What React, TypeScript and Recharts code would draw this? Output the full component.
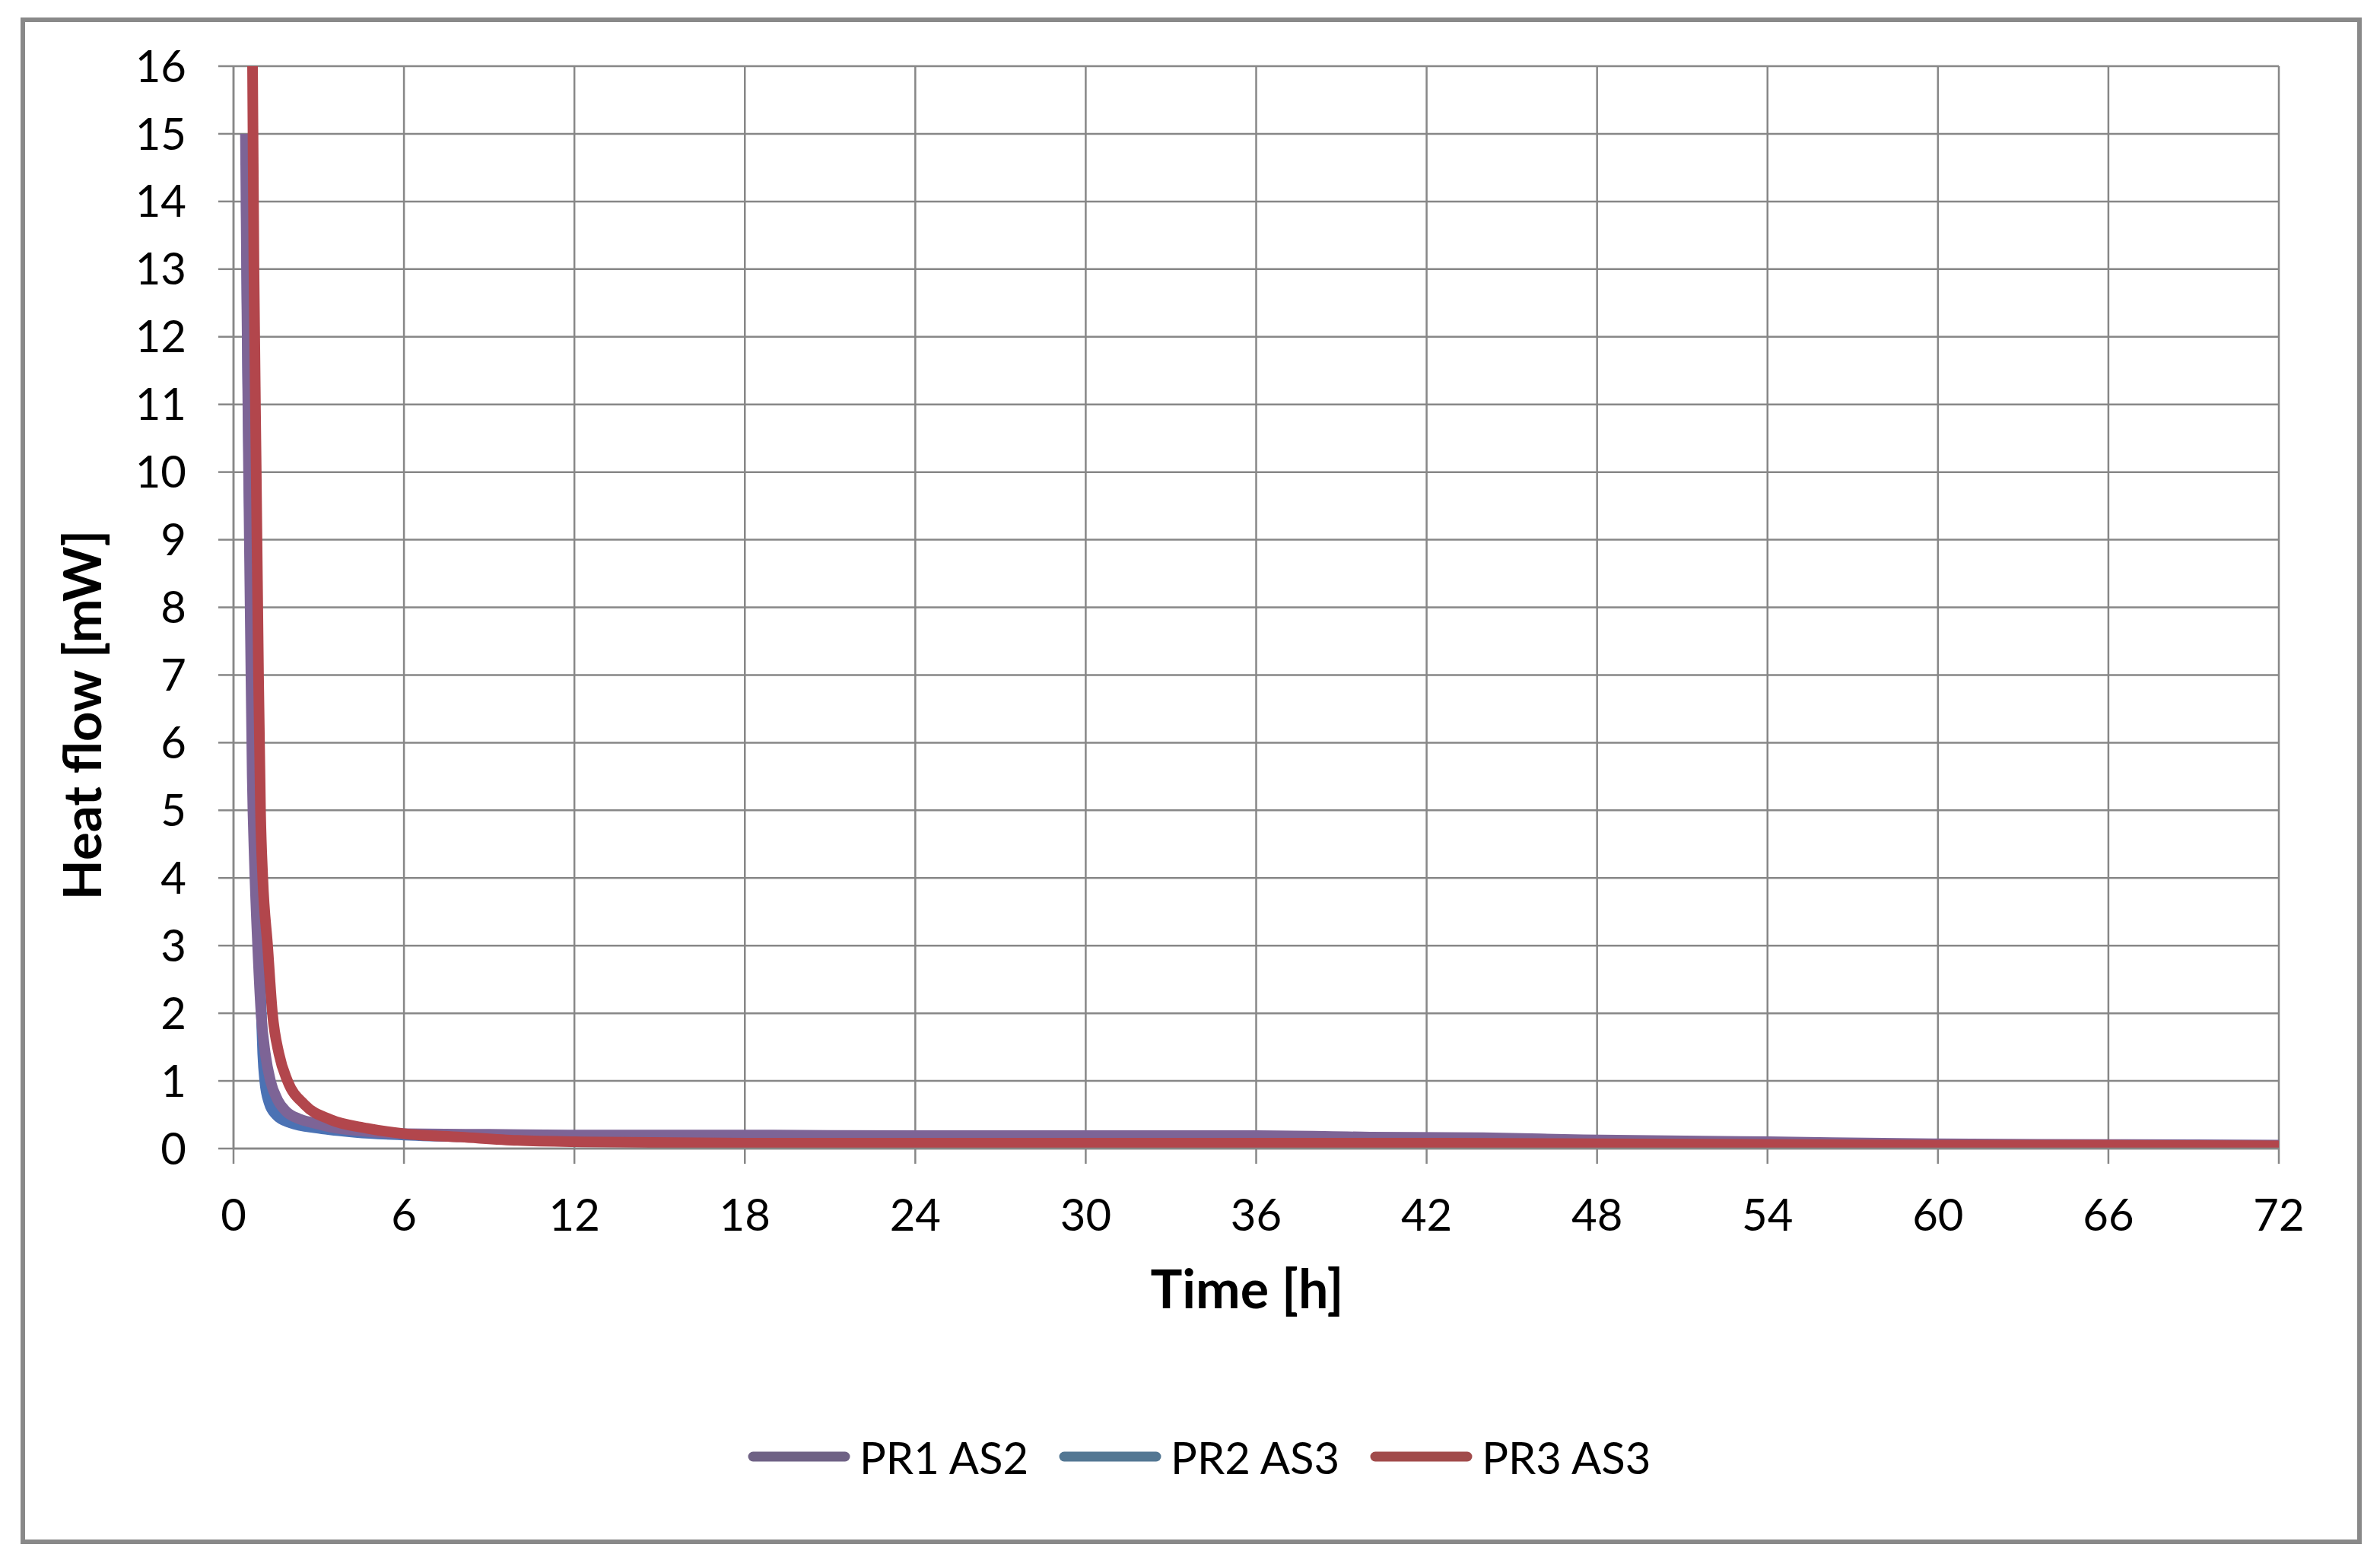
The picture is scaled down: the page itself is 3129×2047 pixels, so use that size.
import { LineChart, Line, XAxis, YAxis, CartesianGrid, Label } from 'recharts';

// time [h] and heat flow [mW]
const pr1Time = [0.42, 0.47, 0.53, 0.6, 0.66, 0.74, 0.85, 0.97, 1.12, 1.3, 1.55, 1.85, 2.3, 2.8, 3.5, 4.5, 6, 9, 12, 18, 24, 30, 36, 40, 44, 47.5, 54, 60, 66, 72];
const pr1Flow = [15.0, 12.5, 10.0, 7.5, 5.5, 4.2, 3.0, 2.0, 1.4, 1.0, 0.72, 0.55, 0.44, 0.38, 0.31, 0.26, 0.22, 0.21, 0.2, 0.2, 0.19, 0.19, 0.19, 0.17, 0.16, 0.13, 0.1, 0.07, 0.06, 0.05];

const pr2Time = [0.45, 0.5, 0.56, 0.63, 0.7, 0.8, 0.9, 0.98, 1.03, 1.1, 1.25, 1.5, 2.0, 3, 4.3, 6, 9, 12, 18, 24, 30, 36, 42, 48, 54, 60, 66, 72];
const pr2Flow = [14.0, 11.5, 9.5, 7.5, 5.6, 4.0, 2.9, 2.0, 1.4, 1.0, 0.68, 0.5, 0.38, 0.3, 0.24, 0.2, 0.17, 0.15, 0.15, 0.14, 0.14, 0.13, 0.11, 0.1, 0.08, 0.06, 0.05, 0.04];

const pr3Time = [0.64, 0.67, 0.72, 0.8, 0.88, 0.95, 1.03, 1.2, 1.37, 1.6, 1.9, 2.5, 3.4, 4.7, 6, 8, 10, 12, 18, 24, 30, 36, 42, 48, 54, 60, 66, 72];
const pr3Flow = [17.5, 16.0, 13.0, 10.0, 7.0, 5.0, 4.0, 3.0, 2.0, 1.4, 1.0, 0.65, 0.43, 0.3, 0.22, 0.17, 0.12, 0.1, 0.08, 0.08, 0.08, 0.08, 0.08, 0.07, 0.06, 0.05, 0.05, 0.04];

const xTicks = [0, 6, 12, 18, 24, 30, 36, 42, 48, 54, 60, 66, 72];
const yTicks = [0, 1, 2, 3, 4, 5, 6, 7, 8, 9, 10, 11, 12, 13, 14, 15, 16];

const toPoints = (t: number[], v: number[]) => t.map((x, i) => ({ t: x, flow: v[i] }));

const series = [
  { name: 'PR1 AS2', data: toPoints(pr1Time, pr1Flow), color: '#7d6496', legend: '#6f6285', z: 1 },
  { name: 'PR2 AS3', data: toPoints(pr2Time, pr2Flow), color: '#4b72b4', legend: '#537793', z: 0 },
  { name: 'PR3 AS3', data: toPoints(pr3Time, pr3Flow), color: '#b2464c', legend: '#a14b4b', z: 2 },
];
// blue sits underneath the purple trace, red on top
const drawOrder = [...series].sort((a, b) => a.z - b.z);

const GRID = '#878787';
const FONT = 'Lato, "Open Sans", sans-serif';

export default function App() {
  return (
    <div style={{ position: 'absolute', left: 0, top: 0, width: 3129, height: 2047, background: '#fff', fontFamily: FONT }}>
      <div style={{ position: 'absolute', left: 27, top: 23, width: 3066, height: 1995, border: '6px solid #898989' }} />
      <div style={{ position: 'absolute', left: 0, top: 0 }}>
        <LineChart width={3129} height={2047} margin={{ top: 87, right: 133, bottom: 437, left: 127 }}>
          <CartesianGrid stroke={GRID} strokeWidth={2.5} />
          <XAxis
            type="number" dataKey="t" domain={[0, 72]} ticks={xTicks} interval={0}
            height={100} tickSize={20} tickMargin={47}
            axisLine={{ stroke: GRID, strokeWidth: 2.5 }} tickLine={{ stroke: GRID, strokeWidth: 2.5 }}
            tick={{ fill: '#000', fontSize: 58, fontFamily: FONT }}
          >
            <Label value="Time [h]" position="bottom" offset={60} dx={-12}
              style={{ fill: '#000', fontSize: 70, fontWeight: 700, fontFamily: FONT }} />
          </XAxis>
          <YAxis
            type="number" domain={[0, 16]} ticks={yTicks} interval={0} allowDataOverflow
            width={180} tickSize={20} tickMargin={42}
            axisLine={{ stroke: GRID, strokeWidth: 2.5 }} tickLine={{ stroke: GRID, strokeWidth: 2.5 }}
            tick={{ fill: '#000', fontSize: 58, fontFamily: FONT }}
            label={{
              content: () => (
                <text x={0} y={0} transform="translate(133 940) rotate(-90)" textAnchor="middle"
                  style={{ fill: '#000', fontSize: 69, fontWeight: 700, fontFamily: FONT }}>
                  Heat flow [mW]
                </text>
              ),
            }}
          />
          {drawOrder.map((s) => (
            <Line
              key={s.name} data={s.data} dataKey="flow" name={s.name} type="monotone"
              stroke={s.color} strokeWidth={14} dot={false} strokeLinejoin="round"
              isAnimationActive={false}
            />
          ))}
        </LineChart>
      </div>
      <div style={{ position: 'absolute', left: 983, top: 1880, height: 70, display: 'flex', alignItems: 'center' }}>
        {series.map((s) => (
          <div key={s.name} style={{ display: 'flex', alignItems: 'center', marginRight: 40 }}>
            <svg width={135} height={20} style={{ display: 'block' }}>
              <line x1={7} y1={10} x2={128} y2={10} stroke={s.legend} strokeWidth={13} strokeLinecap="round" />
            </svg>
            <span style={{ fontSize: 58, color: '#000', marginLeft: 12 }}>{s.name}</span>
          </div>
        ))}
      </div>
    </div>
  );
}
